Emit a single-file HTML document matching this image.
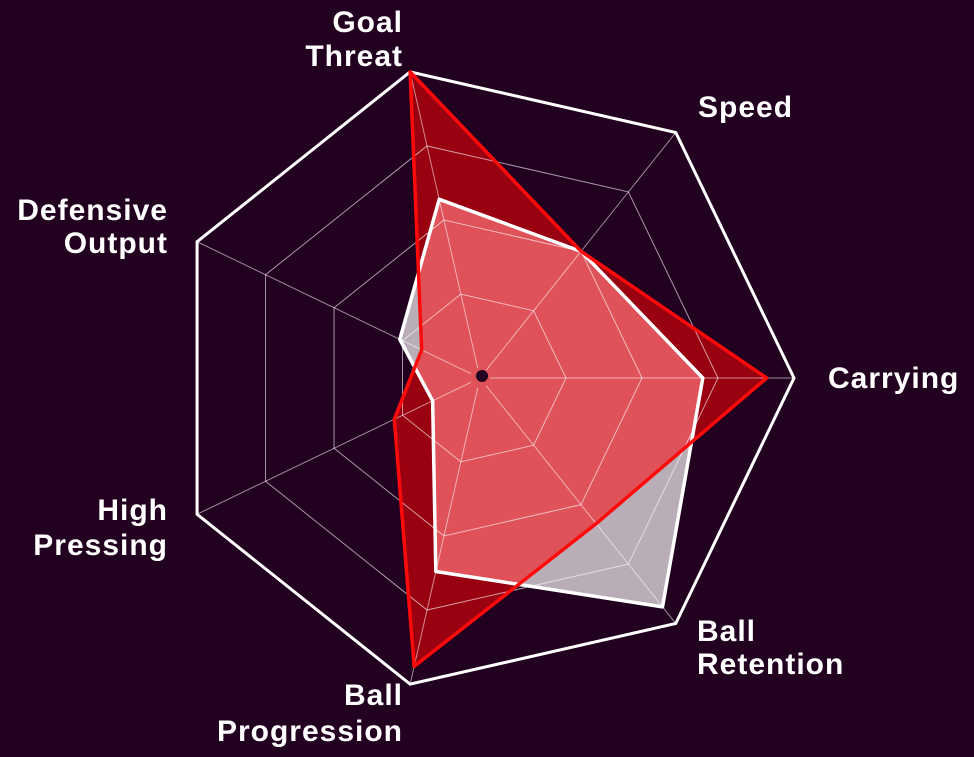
<!DOCTYPE html>
<html><head><meta charset="utf-8">
<style>
html,body{margin:0;padding:0;background:#22001f;}
svg{display:block;}
text{font-family:"Liberation Sans",sans-serif;font-weight:bold;font-size:30px;letter-spacing:1px;fill:#fff;}
</style></head>
<body>
<svg id="chart" width="974" height="757" viewBox="0 0 974 757" xmlns="http://www.w3.org/2000/svg">
<defs><clipPath id="whiteClip"><polygon id="clipPoly"/></clipPath></defs>
<g id="fills"></g>
<g id="grid"></g>
<g id="strokes"></g>
<g id="labels"></g>
</svg>
<script>
const categories = ["Carrying","Speed","Goal Threat","Defensive Output","High Pressing","Ball Progression","Ball Retention"];
const redValues = [91, 50, 100, 18, 28, 94, 58];
const whiteValues = [70, 50, 57, 26, 14, 62, 93];
const ringLevels = [25, 50, 75, 100];

const cx = 480, cy = 378, R = 314, r0 = 10;
const NS = "http://www.w3.org/2000/svg";
const n = categories.length;
function ang(i){ return i * 2 * Math.PI / n; }
function rad(v){ return r0 + v * (R - r0) / 100; }
function pt(i, v){ const r = rad(v), a = ang(i); return [cx + r*Math.cos(a), cy - r*Math.sin(a)]; }
function pts(vals){ return vals.map((v,i)=>pt(i,v).join(",")).join(" "); }
function mk(tag, attrs, parent){ const e=document.createElementNS(NS,tag); for(const k in attrs) e.setAttribute(k,attrs[k]); parent.appendChild(e); return e; }

const fills = document.getElementById("fills");
const grid = document.getElementById("grid");
const strokes = document.getElementById("strokes");
const labels = document.getElementById("labels");
document.getElementById("clipPoly").setAttribute("points", pts(whiteValues));

let e;
e = mk("polygon",{points:pts(whiteValues),fill:"#b9adb8"},fills);


e = mk("polygon",{points:pts(redValues),fill:"#990010"},fills);


e = mk("polygon",{points:pts(redValues),fill:"#e0525a","clip-path":"url(#whiteClip)"},fills);



ringLevels.forEach((lv,k)=>{
  const outer = k === ringLevels.length-1;
  const g = mk("polygon",{points:pts(new Array(n).fill(lv)),fill:"none",stroke:outer?"#fff":"rgba(255,255,255,0.6)","stroke-width":outer?3:1},grid);
  
  
});
for(let i=0;i<n;i++){
  const p = pt(i,100), q = pt(i,0);
  const s = mk("line",{x1:q[0],y1:q[1],x2:p[0],y2:p[1],stroke:"rgba(255,255,255,0.55)","stroke-width":1},grid);
  
  
}
e = mk("circle",{cx:cx+2,cy:cy-2,r:6,fill:"#22001f"},grid);



e = mk("polygon",{points:pts(whiteValues),fill:"none",stroke:"#fff","stroke-width":3.5,"stroke-linejoin":"round"},strokes);


e = mk("polygon",{points:pts(redValues),fill:"none",stroke:"#ff0a0a","stroke-width":3.5,"stroke-linejoin":"round"},strokes);



const labelSpec = [
  {lines:["Carrying"],x:828,y:[388],anchor:"start"},
  {lines:["Speed"],x:698,y:[117],anchor:"start"},
  {lines:["Goal","Threat"],x:403,y:[32,66],anchor:"end"},
  {lines:["Defensive","Output"],x:168,y:[220,253],anchor:"end"},
  {lines:["High","Pressing"],x:168,y:[520,555],anchor:"end"},
  {lines:["Ball","Progression"],x:403,y:[705,741],anchor:"end"},
  {lines:["Ball","Retention"],x:697,y:[641,674],anchor:"start"}
];
labelSpec.forEach((s,i)=>{
  const t = mk("text",{x:s.x,"text-anchor":s.anchor},labels);
  
  
  s.lines.forEach((ln,j)=>{ const ts=mk("tspan",{x:s.x,y:s.y[j]},t); ts.textContent=ln; });
});
</script>
</body></html>
